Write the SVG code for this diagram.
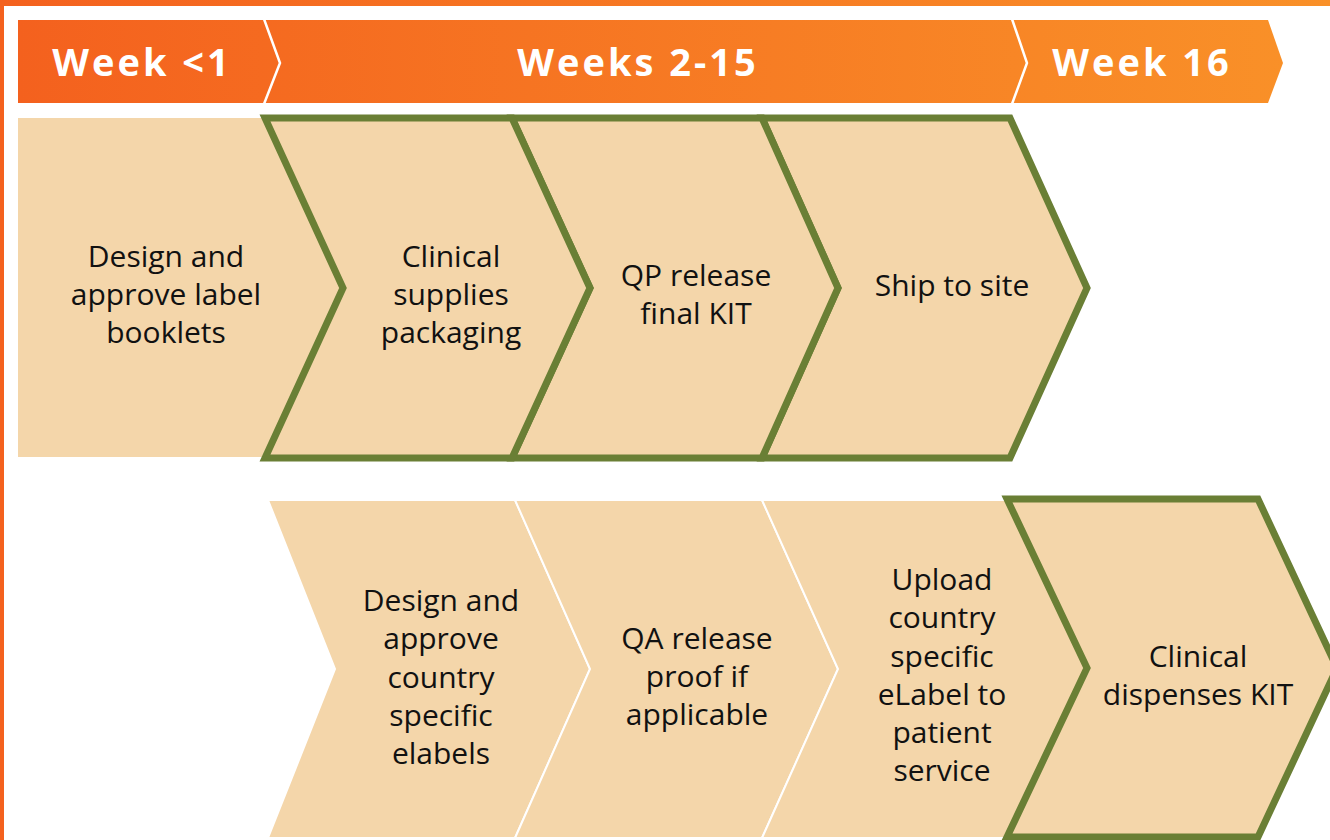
<svg xmlns="http://www.w3.org/2000/svg" width="1330" height="840" viewBox="0 0 1330 840">
  <defs>
    <linearGradient id="hdr" x1="0" y1="0" x2="1" y2="0">
      <stop offset="0" stop-color="#F4611E"/>
      <stop offset="1" stop-color="#F99028"/>
    </linearGradient>
    <style>
      .tan { fill: #F4D6AA; }
      .green { fill: #F4D6AA; stroke: #6A7F35; stroke-width: 7; stroke-linejoin: miter; }
      .sep { fill: #F4D6AA; stroke: #FFFFFF; stroke-width: 2; }
      .wline { fill: none; stroke: #FFFFFF; stroke-width: 2.5; }
      .t { font-family: "Open Sans", "Liberation Sans", sans-serif; font-size: 30px; fill: #111111; text-anchor: middle; }
      .h { font-family: "Open Sans", "Liberation Sans", sans-serif; font-size: 38px; font-weight: bold; fill: #FFFFFF; text-anchor: middle; letter-spacing: 3px; }
    </style>
  </defs>
  <rect x="0" y="0" width="1330" height="840" fill="#FFFFFF"/>
  <rect x="0" y="0" width="1330" height="6" fill="url(#hdr)"/>
  <rect x="0" y="0" width="4" height="840" fill="#F4611E"/>

  <g id="header">
    <polygon points="18,20 1268,20 1283,63 1268,103 18,103" fill="url(#hdr)"/>
    <polyline class="wline" points="264,19 280,63 264,104"/>
    <polyline class="wline" points="1012,19 1027,63 1012,104"/>
    <text class="h" x="142" y="76">Week &lt;1</text>
    <text class="h" x="638" y="76">Weeks 2-15</text>
    <text class="h" x="1142" y="76">Week 16</text>
  </g>

  <g id="connectors"/>

  <g id="design-label-booklets">
    <polygon class="tan" points="18,118 262,118 343,288 262,457 18,457"/>
    <text class="t" x="166" y="267">Design and</text>
    <text class="t" x="166" y="305">approve label</text>
    <text class="t" x="166" y="343">booklets</text>
  </g>

  <g id="ship-to-site">
    <polygon class="green" points="762,118 1010,118 1087,288 1010,458 762,458 838,288"/>
    <text class="t" x="952" y="296">Ship to site</text>
  </g>

  <g id="qp-release">
    <polygon class="green" points="512,118 762,118 838,288 762,458 512,458 590,288"/>
    <text class="t" x="696" y="286">QP release</text>
    <text class="t" x="696" y="324">final KIT</text>
  </g>

  <g id="clinical-packaging">
    <polygon class="green" points="265,118 512,118 590,288 512,458 265,458 343,288"/>
    <text class="t" x="451" y="267">Clinical</text>
    <text class="t" x="451" y="305">supplies</text>
    <text class="t" x="451" y="343">packaging</text>
  </g>

  <g id="design-elabels">
    <polygon class="sep" points="268,500 515,500 590,669 515,838 268,838 335,669"/>
    <text class="t" x="441" y="611">Design and</text>
    <text class="t" x="441" y="649">approve</text>
    <text class="t" x="441" y="688">country</text>
    <text class="t" x="441" y="726">specific</text>
    <text class="t" x="441" y="764">elabels</text>
  </g>

  <g id="qa-release">
    <polygon class="sep" points="515,500 762,500 838,669 762,838 515,838 590,669"/>
    <text class="t" x="697" y="649">QA release</text>
    <text class="t" x="697" y="687">proof if</text>
    <text class="t" x="697" y="725">applicable</text>
  </g>

  <g id="upload-elabel">
    <polygon class="sep" points="762,500 1008,500 1087,669 1008,838 762,838 838,669"/>
    <text class="t" x="942" y="590">Upload</text>
    <text class="t" x="942" y="628">country</text>
    <text class="t" x="942" y="667">specific</text>
    <text class="t" x="942" y="705">eLabel to</text>
    <text class="t" x="942" y="743">patient</text>
    <text class="t" x="942" y="781">service</text>
  </g>

  <g id="clinical-dispenses">
    <polygon class="green" points="1007,499 1258,499 1337,668 1258,837 1007,837 1087,668"/>
    <text class="t" x="1198" y="667">Clinical</text>
    <text class="t" x="1198" y="705">dispenses KIT</text>
  </g>
</svg>
